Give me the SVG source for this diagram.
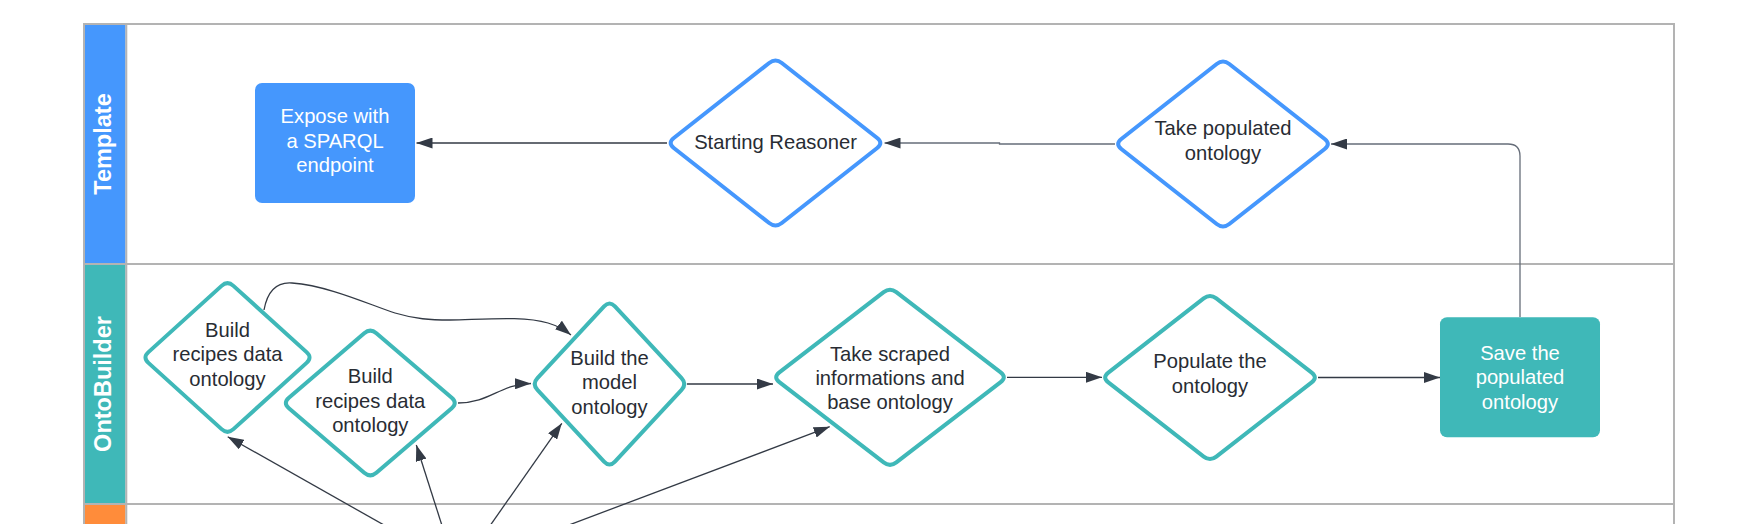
<svg xmlns="http://www.w3.org/2000/svg" width="1760" height="524" viewBox="0 0 1760 524">
<style>
.lane{fill:none;stroke:#b3b3b3;stroke-width:2}
.hdr{font-family:"Liberation Sans",Arial,sans-serif;font-weight:bold;font-size:23.5px;fill:#ffffff;text-anchor:middle}
.txt{font-family:"Liberation Sans",Arial,sans-serif;font-size:20.2px;fill:#282c33;text-anchor:middle}
.wtxt{font-family:"Liberation Sans",Arial,sans-serif;font-size:20.2px;fill:#ffffff;text-anchor:middle}
.dblue{fill:#ffffff;stroke:#4597fd;stroke-width:4;stroke-linejoin:round}
.dteal{fill:#ffffff;stroke:#3fb8b8;stroke-width:4;stroke-linejoin:round}
.conn{fill:none;stroke:#333a45;stroke-width:1.3}
.connG{fill:none;stroke:#666d79;stroke-width:1.3}
</style>
<defs>
<marker id="ah" markerUnits="userSpaceOnUse" markerWidth="16" markerHeight="11" refX="16" refY="5.5" orient="auto">
<path d="M0,0 L16,5.5 L0,11 Z" fill="#333a45"/>
</marker>
</defs>
<rect width="1760" height="524" fill="#ffffff"/>
<g id="lanes">
<rect x="85" y="25" width="40.5" height="238" fill="#4597fd"/>
<rect x="85" y="265" width="40.5" height="238" fill="#3fb8b8"/>
<rect x="85" y="505" width="40.5" height="30" fill="#ff8c3a"/>
<path class="lane" d="M84,540 V24 H1674 V540 M126.3,24 V540 M84,264 H1674 M84,504 H1674"/>
<text class="hdr" transform="translate(110.5,144) rotate(-90)">Template</text>
<text class="hdr" transform="translate(110.5,384) rotate(-90)">OntoBuilder</text>
</g>
<g id="connectors">
<path class="conn" d="M667,143 H416.5" marker-end="url(#ah)"/>
<path class="connG" d="M1115,144 H999.5 V143 H884.5" marker-end="url(#ah)"/>
<path class="connG" d="M1520,317 V156 Q1520,144 1508,144 H1331" marker-end="url(#ah)"/>
<path class="conn" d="M264,310 C268,288 279,282 292,283 C330,286 370,305 395,313 C415,319 430,320 450,320 C490,319 525,316 548,323 C558,326 566,331 571,335" marker-end="url(#ah)"/>
<path class="conn" d="M458,403 C490,403 500,384 531,383.5" marker-end="url(#ah)"/>
<path class="conn" d="M687,384 H773" marker-end="url(#ah)"/>
<path class="conn" d="M1007,377.3 H1102" marker-end="url(#ah)"/>
<path class="conn" d="M1318,377.5 H1440" marker-end="url(#ah)"/>
<path class="conn" d="M410.5,540 L227.7,436.7" marker-end="url(#ah)"/>
<path class="conn" d="M446.6,540 L416.3,445" marker-end="url(#ah)"/>
<path class="conn" d="M480,540 L561.8,423.3" marker-end="url(#ah)"/>
<path class="conn" d="M529.2,540 L829.7,426.7" marker-end="url(#ah)"/>
</g>
<g id="expose">
<rect x="255" y="83" width="160" height="120" rx="7" fill="#4597fd"/>
<text class="wtxt" x="335" y="123">Expose with</text>
<text class="wtxt" x="335" y="147.5">a SPARQL</text>
<text class="wtxt" x="335" y="172">endpoint</text>
</g>
<g id="starting-reasoner">
<path class="dblue" d="M769.2,62.95 Q775.5,58 781.8,62.95 L877.2,138.05 Q883.5,143 877.2,147.95 L781.8,223.05 Q775.5,228 769.2,223.05 L673.8,147.95 Q667.5,143 673.8,138.05 Z"/>
<text class="txt" x="775.5" y="149">Starting Reasoner</text>
</g>
<g id="take-populated">
<path class="dblue" d="M1216.7,63.95 Q1223,59 1229.3,63.95 L1324.7,139.05 Q1331,144 1324.7,148.95 L1229.3,224.05 Q1223,229 1216.7,224.05 L1121.3,148.95 Q1115,144 1121.3,139.05 Z"/>
<text class="txt" x="1223" y="135">Take populated</text>
<text class="txt" x="1223" y="160">ontology</text>
</g>
<g id="build-recipes-1">
<path class="dteal" d="M221.57,285.87 Q227.5,280.5 233.43,285.87 L306.57,352.13 Q312.5,357.5 306.57,362.87 L233.43,429.13 Q227.5,434.5 221.57,429.13 L148.43,362.87 Q142.5,357.5 148.43,352.13 Z"/>
<text class="txt" x="227.5" y="336.5">Build</text>
<text class="txt" x="227.5" y="361">recipes data</text>
<text class="txt" x="227.5" y="385.5">ontology</text>
</g>
<g id="build-recipes-2">
<path class="dteal" d="M364.22,333.21 Q370.3,328 376.38,333.21 L451.72,397.79 Q457.8,403 451.72,408.21 L376.38,472.79 Q370.3,478 364.22,472.79 L288.88,408.21 Q282.8,403 288.88,397.79 Z"/>
<text class="txt" x="370.3" y="383">Build</text>
<text class="txt" x="370.3" y="407.5">recipes data</text>
<text class="txt" x="370.3" y="432">ontology</text>
</g>
<g id="build-model">
<path class="dteal" d="M604.06,306.36 Q609.5,300.5 614.94,306.36 L681.56,378.14 Q687,384 681.56,389.86 L614.94,461.64 Q609.5,467.5 604.06,461.64 L537.44,389.86 Q532,384 537.44,378.14 Z"/>
<text class="txt" x="609.5" y="364.5">Build the</text>
<text class="txt" x="609.5" y="389">model</text>
<text class="txt" x="609.5" y="413.5">ontology</text>
</g>
<g id="take-scraped">
<path class="dteal" d="M883.66,292.18 Q890,287.3 896.34,292.18 L1000.66,372.42 Q1007,377.3 1000.66,382.18 L896.34,462.42 Q890,467.3 883.66,462.42 L779.34,382.18 Q773,377.3 779.34,372.42 Z"/>
<text class="txt" x="890" y="360.5">Take scraped</text>
<text class="txt" x="890" y="384.5">informations and</text>
<text class="txt" x="890" y="409">base ontology</text>
</g>
<g id="populate">
<path class="dteal" d="M1203.68,298.41 Q1210,293.5 1216.32,298.41 L1311.68,372.59 Q1318,377.5 1311.68,382.41 L1216.32,456.59 Q1210,461.5 1203.68,456.59 L1108.32,382.41 Q1102,377.5 1108.32,372.59 Z"/>
<text class="txt" x="1210" y="368">Populate the</text>
<text class="txt" x="1210" y="393">ontology</text>
</g>
<g id="save">
<rect x="1440" y="317.3" width="160" height="120" rx="7" fill="#3fb8b8"/>
<text class="wtxt" x="1520" y="359.5">Save the</text>
<text class="wtxt" x="1520" y="384">populated</text>
<text class="wtxt" x="1520" y="408.5">ontology</text>
</g>
</svg>
